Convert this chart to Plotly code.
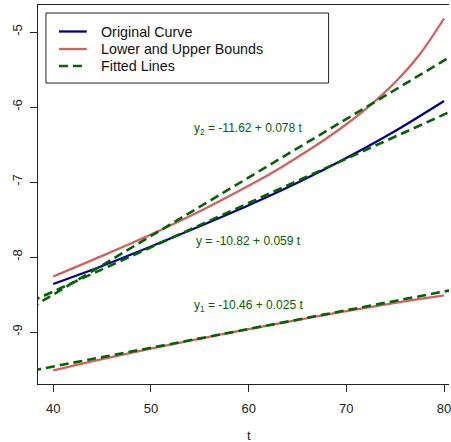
import plotly.graph_objects as go

# ---- data ----
t_orig = [40, 45, 50, 55, 60, 65, 70, 75, 80]
y_orig = [-8.36, -8.12, -7.86, -7.59, -7.31, -7.01, -6.68, -6.32, -5.92]

t_upper = [40, 45, 50, 55, 60, 62.5, 65, 67.5, 70, 72.5, 75, 77.5, 80]
y_upper = [-8.26, -7.985, -7.70, -7.39, -7.05, -6.87, -6.67, -6.46, -6.23, -5.97, -5.67, -5.30, -4.82]

t_lower = [40, 45, 50, 55, 60, 65, 70, 75, 80]
y_lower = [-9.51, -9.36, -9.22, -9.09, -8.96, -8.84, -8.72, -8.61, -8.51]

fit_names = ["y1", "y", "y2"]
fit_intercepts = [-10.46, -10.82, -11.62]
fit_slopes = [0.025, 0.059, 0.078]
fit_labels = ["y<sub>1</sub> = -10.46 + 0.025 t",
              "y = -10.82 + 0.059 t",
              "y<sub>2</sub> = -11.62 + 0.078 t"]
label_t = [60, 60, 60]
label_y = [-8.65, -7.78, -6.29]

x_ticks = [40, 50, 60, 70, 80]
y_ticks = [-9, -8, -7, -6, -5]
y_ticktext = ["-9", "-8", "-7", "-6", "-5"]

legend_labels = ["Original Curve", "Lower and Upper Bounds", "Fitted Lines"]

# ---- styles ----
BLUE = "#00008B"
RED = "#D4605E"
GREEN = "#006400"
FONT = "Liberation Sans, Arial, Helvetica, sans-serif"
DASH = "9px,5px"

W, H = 451, 442
ML, MT, MB, MR = 38, 5, 58, 0
PW = W - ML - MR
PH = H - MT - MB
XR = [38.44, 80.51]
YR = [-9.693, -4.64]


def px_x(px):
    return (px - ML) / PW


def px_y(py):
    return (H - MB - py) / PH


fig = go.Figure()

fig.add_trace(go.Scatter(x=t_orig, y=y_orig, mode="lines",
                         line=dict(color=BLUE, width=2.3, shape="spline"),
                         showlegend=False))
fig.add_trace(go.Scatter(x=t_upper, y=y_upper, mode="lines",
                         line=dict(color=RED, width=2.3, shape="spline"),
                         showlegend=False))
fig.add_trace(go.Scatter(x=t_lower, y=y_lower, mode="lines",
                         line=dict(color=RED, width=2.3, shape="spline"),
                         showlegend=False))

for a, b in zip(fit_intercepts, fit_slopes):
    xs = [XR[0] - 2, XR[1] + 2]
    fig.add_trace(go.Scatter(x=xs, y=[a + b * v for v in xs], mode="lines",
                             line=dict(color=GREEN, width=2.6, dash=DASH),
                             showlegend=False))

annotations = []
for lab, tx, ty in zip(fit_labels, label_t, label_y):
    annotations.append(dict(x=tx, y=ty, xref="x", yref="y", text=lab,
                            showarrow=False, font=dict(color=GREEN, size=12, family=FONT),
                            xanchor="center", yanchor="middle"))

# axis title
annotations.append(dict(x=60, y=px_y(435), xref="x", yref="paper", text="t",
                        showarrow=False, font=dict(color="#222", size=13, family=FONT),
                        xanchor="center", yanchor="middle"))

# manual legend
shapes = [dict(type="rect", xref="paper", yref="paper",
               x0=px_x(46), x1=px_x(330), y0=px_y(13), y1=px_y(83),
               line=dict(color="#222", width=1), fillcolor="white", layer="above")]
leg_y = [31.5, 49, 66]
leg_style = [dict(color=BLUE, width=2.3), dict(color=RED, width=2.3),
             dict(color=GREEN, width=2.6, dash=DASH)]
for lab, ly, st in zip(legend_labels, leg_y, leg_style):
    shapes.append(dict(type="line", xref="paper", yref="paper",
                       x0=px_x(59), x1=px_x(87), y0=px_y(ly), y1=px_y(ly),
                       line=st, layer="above"))
    annotations.append(dict(x=px_x(99), y=px_y(ly), xref="paper", yref="paper",
                            text=lab, showarrow=False, xanchor="left", yanchor="middle",
                            font=dict(size=14.3, color="#111", family=FONT)))

fig.update_layout(
    width=W, height=H,
    margin=dict(l=ML, r=MR, t=MT, b=MB),
    plot_bgcolor="white", paper_bgcolor="white",
    showlegend=False,
    annotations=annotations, shapes=shapes,
    font=dict(family=FONT, color="#222"),
)
fig.update_xaxes(range=XR, tickvals=x_ticks, ticks="outside", ticklen=7,
                 tickcolor="#222", showgrid=False, zeroline=False,
                 showline=True, linecolor="#222", linewidth=1, mirror=True,
                 ticklabeloverflow="allow", ticklabelstandoff=5,
                 tickfont=dict(size=13, family=FONT, color="#222"))
fig.update_yaxes(range=YR, tickvals=y_ticks, ticktext=y_ticktext, ticks="outside",
                 ticklen=7, tickcolor="#222", showgrid=False, zeroline=False,
                 showline=True, linecolor="#222", linewidth=1, mirror=False,
                 ticklabelstandoff=3,
                 tickangle=-90, tickfont=dict(size=13, family=FONT, color="#222"))

fig.write_html("out.html", config={"displayModeBar": False},
               post_script="document.body.style.margin='0';document.body.style.overflow='hidden';")
